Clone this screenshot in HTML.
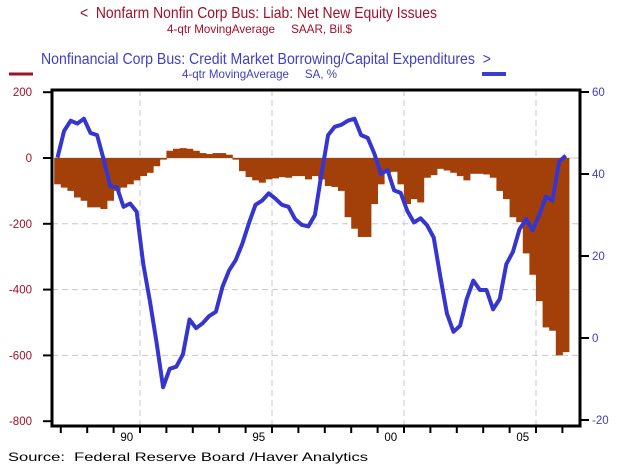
<!DOCTYPE html>
<html><head><meta charset="utf-8"><style>
body{margin:0;background:#fff;}
svg{display:block;font-family:"Liberation Sans",Arial,sans-serif;}
</style></head><body>
<svg id="chart" width="643" height="465" viewBox="0 0 643 465">
<text x="80" y="18" font-size="16" fill="#a0102a" textLength="357" lengthAdjust="spacingAndGlyphs" xml:space="preserve">&lt;  Nonfarm Nonfin Corp Bus: Liab: Net New Equity Issues</text>
<text x="167" y="33" font-size="12" fill="#a0102a" textLength="185" lengthAdjust="spacingAndGlyphs" xml:space="preserve">4-qtr MovingAverage     SAAR, Bil.$</text>
<text x="41" y="64" font-size="16" fill="#4040c0" textLength="450" lengthAdjust="spacingAndGlyphs" xml:space="preserve">Nonfinancial Corp Bus: Credit Market Borrowing/Capital Expenditures  &gt;</text>
<text x="182" y="78" font-size="12" fill="#4040c0" textLength="155" lengthAdjust="spacingAndGlyphs" xml:space="preserve">4-qtr MovingAverage     SA, %</text>
<line x1="9" y1="74" x2="33" y2="74" stroke="#a0102a" stroke-width="3"/>
<line x1="482" y1="74" x2="506" y2="74" stroke="#3c3cd0" stroke-width="4"/>
<g id="grid"></g>
<g id="bars"></g>
<g id="line"></g>
<g id="axes"></g>
<text x="8" y="461" font-size="12" fill="#000" textLength="360" lengthAdjust="spacingAndGlyphs" xml:space="preserve">Source:  Federal Reserve Board /Haver Analytics</text>
</svg>
<script>
const barValues=[-80,-90,-100,-120,-130,-150,-150,-155,-130,-100,-90,-80,-68,-55,-45,-25,-5,22,28,30,28,22,15,12,15,15,10,-5,-40,-58,-68,-75,-65,-62,-58,-60,-55,-55,-65,-55,-65,-85,-88,-100,-180,-215,-240,-240,-140,-80,-45,-42,-80,-140,-125,-135,-60,-52,-33,-38,-45,-55,-68,-48,-48,-50,-60,-100,-125,-180,-195,-290,-355,-435,-515,-525,-600,-590];
const lineValues=[44,50.5,53,52.3,53.5,50,49.5,43.5,37,36.8,32,32.8,30.8,18,9,-1,-12,-7.5,-7,-4,4.5,2.4,3.6,5.4,6.4,12.5,16.5,19,23,28,32.5,33.5,35.3,34,32.5,32,29,27.6,27.2,30,40,49.5,51.5,52,53,53.5,49.5,48.8,45,40,41,36,35.4,31,28.2,29.2,27.5,24.5,15,6,1.5,3,9.5,14,11.7,11.7,7,9.5,18,21,26.5,29,26.3,30,34.5,33.5,43,44.5];
const leftTicks=[200,0,-200,-400,-600,-800];
const rightTicks=[60,40,20,0,-20];
const yearLabels=["90","95","00","05"];
const yearLabelYears=[1990,1995,2000,2005];
const firstYear=1988, lastYear=2007;
const startT=1987.75;

const NS="http://www.w3.org/2000/svg";
const L=52,R=580,T=90,B=426;
const yL=v=>158-(v)*0.329;
const yR=v=>92+(60-v)*4.1;
const xT=t=>113.6+(t-1990)*26.4;
function mk(tag,attrs,parent){const e=document.createElementNS(NS,tag);for(const k in attrs)e.setAttribute(k,attrs[k]);parent.appendChild(e);return e;}
const grid=document.getElementById('grid'),bars=document.getElementById('bars'),line=document.getElementById('line'),axes=document.getElementById('axes');

leftTicks.forEach(v=>{if(v===200||v===-800)return;
 const g=mk('line',{x1:L,x2:R,y1:yL(v),y2:yL(v),stroke:'#c8c8c8','stroke-width':1,'stroke-dasharray':v===0?'none':'6,4'},grid);
 
 });
yearLabelYears.forEach(y=>{const g=mk('line',{x1:xT(y+1),x2:xT(y+1),y1:T,y2:B,stroke:'#c8c8c8','stroke-width':1,'stroke-dasharray':'6,4'},grid);
 
 });

barValues.forEach((v,i)=>{const x0=xT(startT+i*0.25),x1=xT(startT+(i+1)*0.25);
 const y0=yL(0),y1=yL(v);
 const r=mk('rect',{x:x0,y:Math.min(y0,y1),width:x1-x0+0.4,height:Math.abs(y1-y0),fill:'#a3400a'},bars);
 
 });

const pts=lineValues.map((v,i)=>xT(startT+i*0.25+0.125).toFixed(1)+','+yR(v).toFixed(1)).join(' ');
const pl=mk('polyline',{points:pts,fill:'none',stroke:'#3535d0','stroke-width':4,'stroke-linejoin':'round'},line);



const fr=mk('rect',{x:L,y:T,width:R-L,height:B-T,fill:'none',stroke:'#000','stroke-width':3},axes);


leftTicks.forEach(v=>{const y=yL(v);
 mk('line',{x1:L-9,x2:L,y1:y,y2:y,stroke:'#000','stroke-width':2},axes);
 const t=mk('text',{x:32,y:y+4,'text-anchor':'end','font-size':11.5,fill:'#a0102a'},axes);t.textContent=v;
 
 });
rightTicks.forEach(v=>{const y=yR(v);
 mk('line',{x1:R,x2:R+9,y1:y,y2:y,stroke:'#000','stroke-width':2},axes);
 const t=mk('text',{x:592,y:y+4,'font-size':11.5,fill:'#4040c0'},axes);t.textContent=v;
 
 });
for(let y=firstYear;y<=lastYear;y++){const x=xT(y);if(x<L||x>R)continue;
 mk('line',{x1:x,x2:x,y1:B,y2:B+7,stroke:'#000','stroke-width':2},axes);}
yearLabels.forEach((s,i)=>{const t=mk('text',{x:xT(yearLabelYears[i]+0.5),y:441,'text-anchor':'middle','font-size':11.5,fill:'#000'},axes);t.textContent=s;
 
 });
</script>
</body></html>
